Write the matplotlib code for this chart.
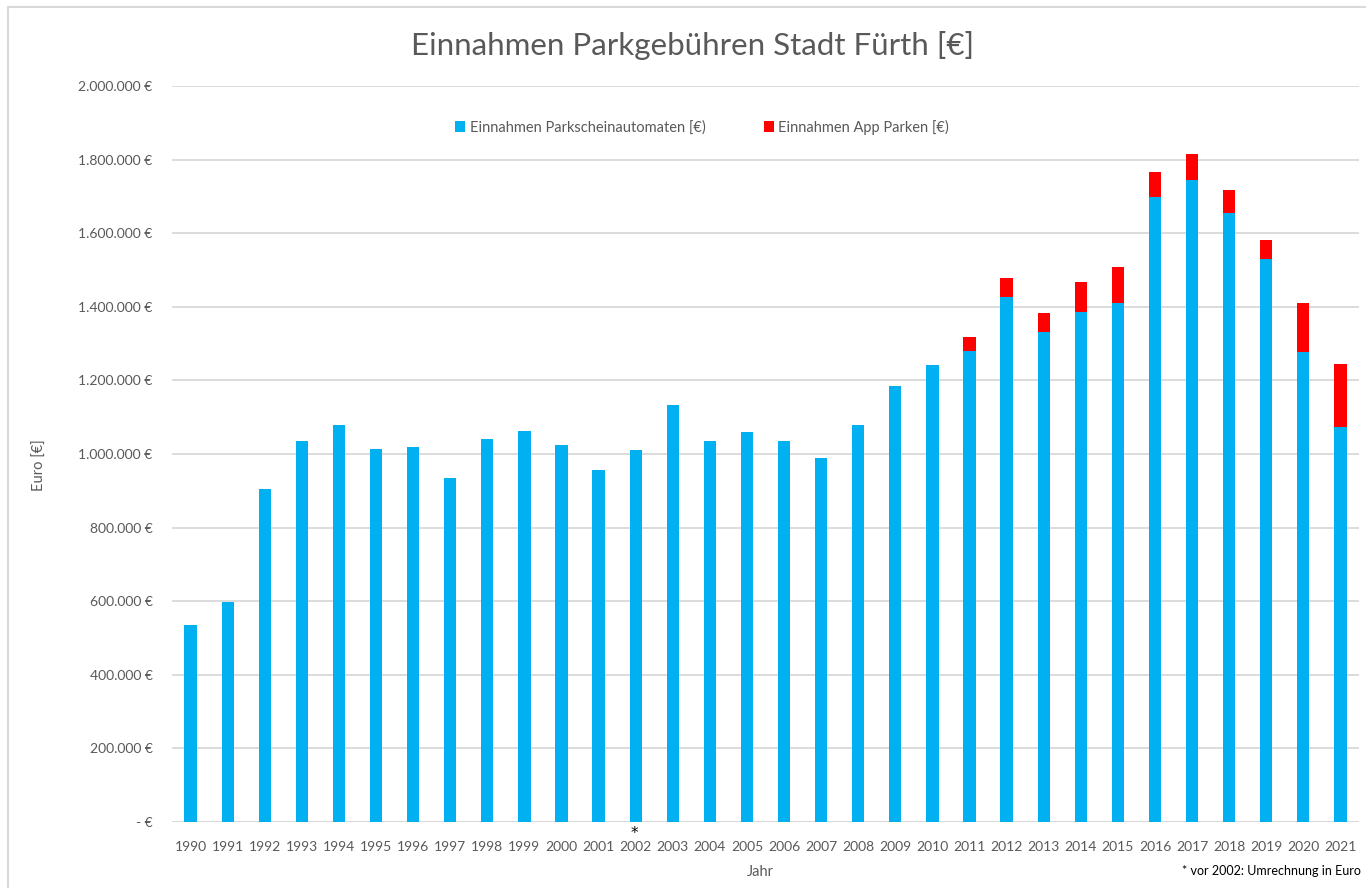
import matplotlib
matplotlib.use("Agg")
import matplotlib.pyplot as plt
from matplotlib.lines import Line2D
from matplotlib.ticker import FuncFormatter

years = [str(y) for y in range(1990, 2022)]
automaten = [534500, 597000, 905000, 1035000, 1078000, 1013000, 1018000, 935000,
             1040000, 1062000, 1024000, 956000, 1010000, 1132000, 1035000, 1060000,
             1035000, 990000, 1080000, 1184500, 1241500, 1278700, 1426000, 1331000,
             1386400, 1410000, 1697600, 1744800, 1656000, 1531000, 1276900, 1073000]
app_total = [None] * 21 + [1318600, 1477800, 1382800, 1467800, 1508500, 1767400,
                          1815400, 1717700, 1582000, 1410000, 1245000]
app = [0 if t is None else t - a for t, a in zip(app_total, automaten)]

title = "Einnahmen Parkgebühren Stadt Fürth [€]"
label_a = "Einnahmen Parkscheinautomaten [€)"
label_b = "Einnahmen App Parken [€)"
footnote = "* vor 2002: Umrechnung in Euro"

BLUE = "#00B0F0"
RED = "#FF0000"
GRID = "#D9D9D9"
TXT = "#595959"

plt.rcParams['font.family'] = ['Lato', 'DejaVu Sans']

fig = plt.figure(figsize=(13.66, 8.88), dpi=100)
ax = fig.add_axes([172/1366, 1-822/888, (1359-172)/1366, (822-86)/888])

x = list(range(len(years)))
ax.bar(x, automaten, width=0.33, color=BLUE, label=label_a, zorder=3)
ax.bar(x, app, width=0.33, bottom=automaten, color=RED, label=label_b, zorder=3)

ax.set_xlim(-0.5, len(years) - 0.5)
ax.set_ylim(0, 2000000)
ax.set_yticks(range(0, 2000001, 200000))

def fmt(v, pos):
    if v == 0:
        return "- €"
    return f"{int(v):,}".replace(",", ".") + " €"

ax.yaxis.set_major_formatter(FuncFormatter(fmt))
ax.set_xticks(x)
ax.set_xticklabels(years)
ax.tick_params(axis='both', length=0, labelsize=10, colors=TXT)
ax.tick_params(axis='y', pad=14)
ax.tick_params(axis='x', pad=14)
ax.grid(axis='y', color=GRID, linewidth=1.3, zorder=0)
for s in ax.spines.values():
    s.set_visible(False)
ax.axhline(0, color=GRID, linewidth=1.3, zorder=2)

fig.text(693/1366, 1-45/888, title, ha='center', va='center', fontsize=22.5, color=TXT)
fig.text(40/1366, 1-465/888, "Euro [€]", rotation=90, ha='center', va='center',
         fontsize=10.5, color=TXT)
fig.text(760/1366, 1-872/888, "Jahr", ha='center', va='center', fontsize=10.5, color=TXT)
fig.text(1361/1366, 1-871/888, footnote, ha='right', va='center', fontsize=9, color="#000000")
fig.text(634/1366, 1-833/888, "*", ha='center', va='center', fontsize=11, color="#000000",
         family=['DejaVu Sans'])

leg = fig.legend(loc='center', bbox_to_anchor=(702/1366, 1-127/888), ncol=2, frameon=False,
                 fontsize=10.5, handlelength=0.7, handleheight=0.7, handletextpad=0.3,
                 columnspacing=4.0, labelcolor=TXT)

fig.add_artist(Line2D([8/1366, 8/1366], [0, 1-7/888], color=GRID, linewidth=1.5,
                      transform=fig.transFigure))
fig.add_artist(Line2D([8/1366, 1], [1-7/888, 1-7/888], color=GRID, linewidth=1.5,
                      transform=fig.transFigure))

fig.savefig("out.png", dpi=100, facecolor='white')
